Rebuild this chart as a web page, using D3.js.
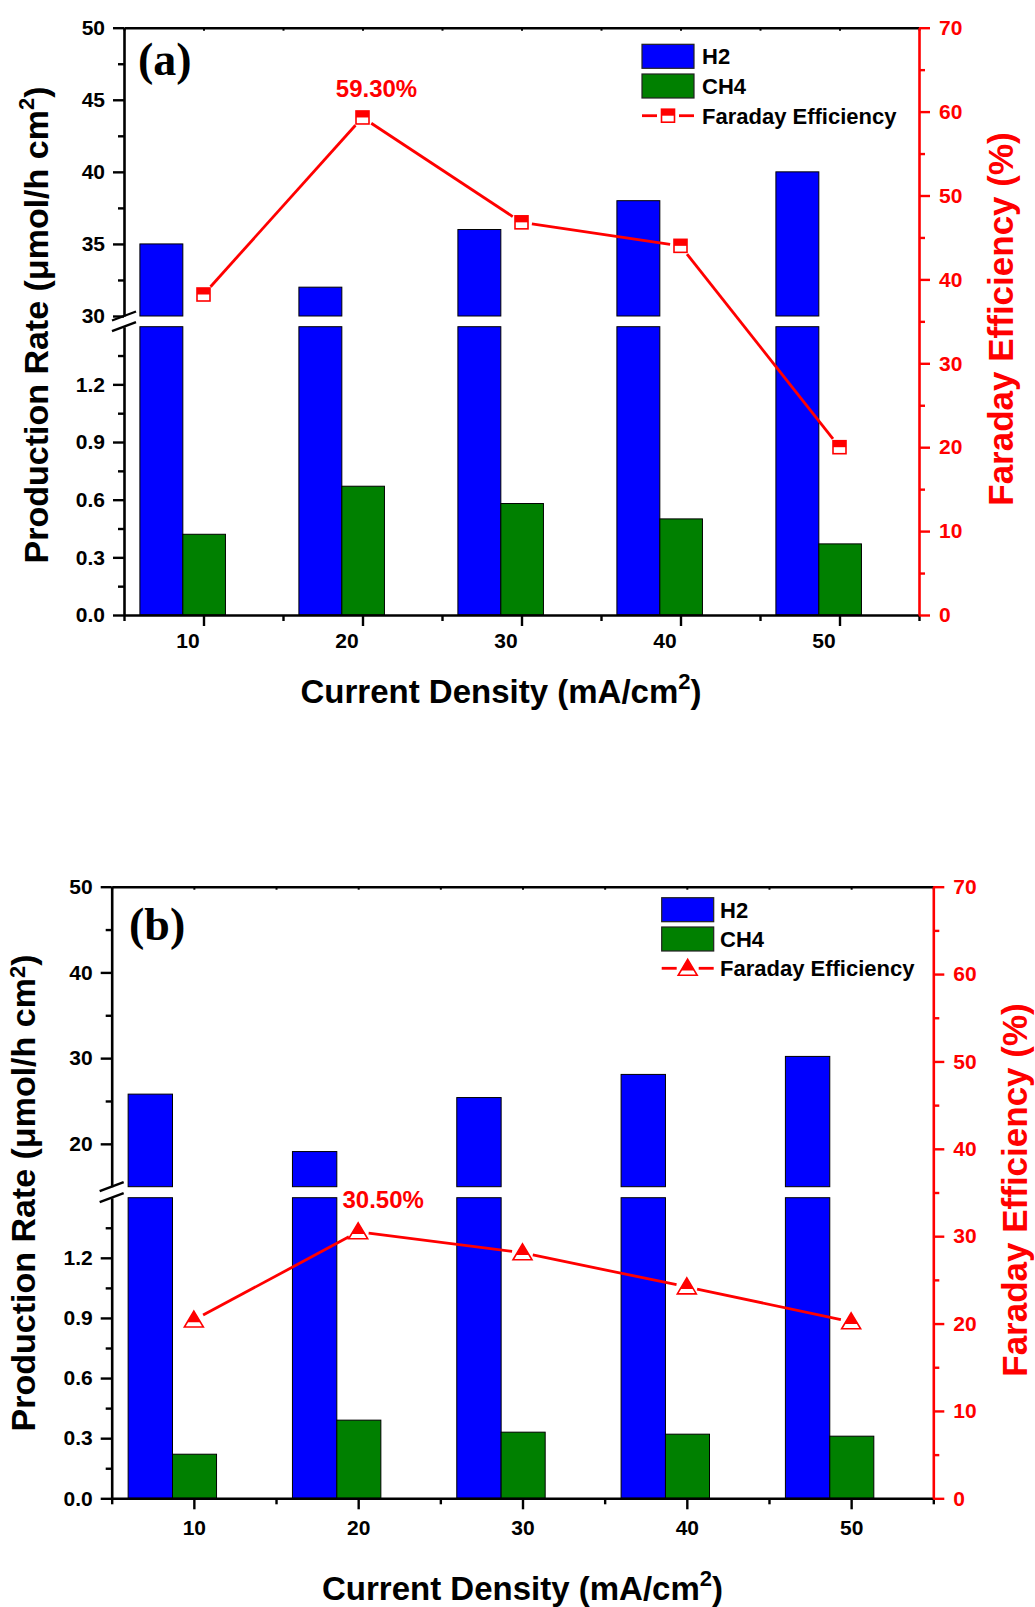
<!DOCTYPE html>
<html><head><meta charset="utf-8">
<script src="https://cdn.jsdelivr.net/npm/d3@7"></script>
<style>
body{margin:0;background:#fff}
svg{display:block}
</style>
</head><body>
<svg id="chart" width="1035" height="1607"></svg>
<script>
// ---------- data ----------
const currentDensity = [10, 20, 30, 40, 50];
const seriesNames = ["H2", "CH4", "Faraday Efficiency"];
const h2RateA = [35, 32, 36, 38, 40];
const ch4RateA = [0.42, 0.67, 0.58, 0.50, 0.37];
const faradayA = [38.2, 59.3, 46.8, 44.0, 20.0];
const h2RateB = [25.8, 19.1, 25.4, 28.1, 30.2];
const ch4RateB = [0.22, 0.39, 0.33, 0.32, 0.31];
const faradayB = [20.4, 30.5, 28.1, 24.2, 20.2];
const lowTicks = [0, 0.3, 0.6, 0.9, 1.2];
const lowMinorTicks = [0.15, 0.45, 0.75, 1.05, 1.35];
const highTicksA = [30, 35, 40, 45, 50];
const highMinorTicksA = [32.5, 37.5, 42.5, 47.5];
const highTicksB = [20, 30, 40, 50];
const highMinorTicksB = [25, 35, 45];
const rightTicks = [0, 10, 20, 30, 40, 50, 60, 70];
const rightMinorTicks = [5, 15, 25, 35, 45, 55, 65];
const xMinorTicks = [5, 15, 25, 35, 45, 55];
const peakLabelA = "59.30%";
const peakLabelB = "30.50%";
const panelLabels = ["(a)", "(b)"];
const yTitle = "Production Rate (μmol/h cm";
const xTitle = "Current Density (mA/cm";
const rightTitle = "Faraday Efficiency (%)";

const BLUE = "#0000FF", GREEN = "#008000", RED = "#FF0000";
const SANS = '"Liberation Sans", Arial, sans-serif';
const SERIF = '"Liberation Serif", "Times New Roman", serif';
const svg = d3.select("#chart").style("font-family", SANS).style("font-weight", "bold");

function styleAxis(sel, color, fs) {
  sel.selectAll("path.domain").attr("stroke", color).attr("stroke-width", 2.6);
  sel.selectAll(".tick line").attr("stroke", color).attr("stroke-width", 2.4);
  sel.attr("font-family", null).attr("font-size", null);
  sel.selectAll(".tick text").attr("fill", color)
    .style("font-size", fs + "px").style("font-family", SANS).style("font-weight", "bold");
}

function marker(g, type, cx, cy) {
  if (type === "square") {
    const s = 13;
    g.append("rect").attr("x", cx - s/2).attr("y", cy - s/2).attr("width", s).attr("height", s)
      .attr("fill", "#fff").attr("stroke", RED).attr("stroke-width", 1.6);
    g.append("rect").attr("x", cx - s/2).attr("y", cy - s/2).attr("width", s).attr("height", s/2)
      .attr("fill", RED);
  } else {
    const hw = 9.5, top = cy - 9, bot = cy + 7, f = 0.7;
    const hgt = bot - top;
    g.append("path").attr("d", `M${cx},${top}L${cx+hw},${bot}L${cx-hw},${bot}Z`)
      .attr("fill", "#fff").attr("stroke", RED).attr("stroke-width", 1.6);
    g.append("path").attr("d", `M${cx},${top}L${cx+hw*f},${top+hgt*f}L${cx-hw*f},${top+hgt*f}Z`)
      .attr("fill", RED);
  }
}

function drawPanel(cfg) {
  const g = svg.append("g");
  const x = d3.scaleLinear().domain([5, 55]).range([cfg.left, cfg.right]);
  const yLow = d3.scaleLinear().domain([0, 1.5]).range([cfg.bottom, cfg.breakLo]);
  const yHigh = d3.scaleLinear().domain(cfg.highDomain).range([cfg.breakHi, cfg.top]);
  const yR = d3.scaleLinear().domain([0, 70]).range([cfg.bottom, cfg.top]);

  const rows = currentDensity.map((c, i) => ({c, h2: cfg.h2[i], ch4: cfg.ch4[i], fe: cfg.fe[i]}));
  const h2L = -4.0, h2R = -1.3, chL = -1.3, chR = 1.38;

  // H2 bars (broken)
  g.selectAll(".h2lo").data(rows).join("rect")
    .attr("x", d => x(d.c + h2L)).attr("width", d => x(d.c + h2R) - x(d.c + h2L))
    .attr("y", d => d.h2 > 1.5 ? yLow(1.5) : yLow(d.h2))
    .attr("height", d => cfg.bottom - (d.h2 > 1.5 ? yLow(1.5) : yLow(d.h2)))
    .attr("fill", BLUE).attr("stroke", "#000").attr("stroke-width", 1);
  g.selectAll(".h2hi").data(rows.filter(d => d.h2 > cfg.highDomain[0])).join("rect")
    .attr("x", d => x(d.c + h2L)).attr("width", d => x(d.c + h2R) - x(d.c + h2L))
    .attr("y", d => yHigh(d.h2)).attr("height", d => yHigh(cfg.highDomain[0]) - yHigh(d.h2))
    .attr("fill", BLUE).attr("stroke", "#000").attr("stroke-width", 1);
  // CH4 bars
  g.selectAll(".ch4").data(rows).join("rect")
    .attr("x", d => x(d.c + chL)).attr("width", d => x(d.c + chR) - x(d.c + chL))
    .attr("y", d => yLow(d.ch4)).attr("height", d => cfg.bottom - yLow(d.ch4))
    .attr("fill", GREEN).attr("stroke", "#000").attr("stroke-width", 1);

  // top axis line
  const topAx = g.append("g").attr("transform", `translate(0,${cfg.top})`)
    .call(d3.axisTop(x).tickValues(d3.range(5, 56, 5)).tickSize(-3).tickSizeOuter(0).tickFormat(""));
  styleAxis(topAx, "#000", 0);
  topAx.selectAll(".tick line").attr("stroke-width", 2);

  // bottom axis
  const bx = g.append("g").attr("transform", `translate(0,${cfg.bottom})`)
    .call(d3.axisBottom(x).tickValues(currentDensity).tickSize(11).tickSizeOuter(0).tickPadding(cfg.xPad));
  styleAxis(bx, "#000", 21);
  bx.selectAll(".tick text").attr("dx", cfg.xLabelDx);
  const bxm = g.append("g").attr("transform", `translate(0,${cfg.bottom})`)
    .call(d3.axisBottom(x).tickValues(xMinorTicks).tickSize(6).tickFormat(""));
  bxm.select("path.domain").remove();
  styleAxis(bxm, "#000", 21);

  // left axis, lower
  const la = g.append("g").attr("transform", `translate(${cfg.left},0)`)
    .call(d3.axisLeft(yLow).tickValues(lowTicks).tickSize(11).tickSizeOuter(0).tickPadding(8).tickFormat(d3.format(".1f")));
  styleAxis(la, "#000", 21);
  const lam = g.append("g").attr("transform", `translate(${cfg.left},0)`)
    .call(d3.axisLeft(yLow).tickValues(lowMinorTicks).tickSize(6).tickFormat(""));
  lam.select("path.domain").remove(); styleAxis(lam, "#000", 21);
  // left axis, upper
  const ua = g.append("g").attr("transform", `translate(${cfg.left},0)`)
    .call(d3.axisLeft(yHigh).tickValues(cfg.highTicks).tickSize(11).tickSizeOuter(0).tickPadding(8).tickFormat(d3.format("d")));
  styleAxis(ua, "#000", 21);
  const uam = g.append("g").attr("transform", `translate(${cfg.left},0)`)
    .call(d3.axisLeft(yHigh).tickValues(cfg.highMinor).tickSize(6).tickFormat(""));
  uam.select("path.domain").remove(); styleAxis(uam, "#000", 21);

  // break marks
  [cfg.breakHi, cfg.breakLo].forEach(yy => {
    g.append("line").attr("x1", cfg.left - 12).attr("y1", yy + 4.5).attr("x2", cfg.left + 12).attr("y2", yy - 4.5)
      .attr("stroke", "#000").attr("stroke-width", 2.4);
  });

  // right axis
  const ra = g.append("g").attr("transform", `translate(${cfg.right},0)`)
    .call(d3.axisRight(yR).tickValues(rightTicks).tickSize(11).tickSizeOuter(0).tickPadding(cfg.rPad).tickFormat(d3.format("d")));
  styleAxis(ra, RED, 21);
  const ram = g.append("g").attr("transform", `translate(${cfg.right},0)`)
    .call(d3.axisRight(yR).tickValues(rightMinorTicks).tickSize(6).tickFormat(""));
  ram.select("path.domain").remove(); styleAxis(ram, RED, 21);

  // Faraday efficiency line with gaps
  const pts = rows.map(d => [x(d.c), yR(d.fe)]);
  const gap = 10.5;
  for (let i = 0; i < pts.length - 1; i++) {
    const [x1, y1] = pts[i], [x2, y2] = pts[i+1];
    const L = Math.hypot(x2 - x1, y2 - y1), ux = (x2 - x1) / L, uy = (y2 - y1) / L;
    g.append("line").attr("x1", x1 + ux*gap).attr("y1", y1 + uy*gap)
      .attr("x2", x2 - ux*gap).attr("y2", y2 - uy*gap)
      .attr("stroke", RED).attr("stroke-width", 2.8);
  }
  pts.forEach(p => marker(g, cfg.marker, p[0], p[1]));

  // peak label
  const iMax = d3.maxIndex(rows, d => d.fe);
  g.append("text").attr("x", x(rows[iMax].c) + cfg.peakDx).attr("y", cfg.peakY)
    .attr("text-anchor", "middle").style("font-size", "24px").attr("fill", RED).text(cfg.peakLabel);

  // panel label
  g.append("text").attr("x", cfg.labelX).attr("y", cfg.labelY)
    .style("font-family", SERIF).style("font-weight", "bold")
    .style("font-size", "46px").attr("fill", "#000").text(cfg.panelLabel);

  // legend
  const lg = g.append("g");
  const lx0 = cfg.legX, lx1 = cfg.legX + 52;
  [[BLUE, seriesNames[0]], [GREEN, seriesNames[1]]].forEach(([col, name], i) => {
    const cy = cfg.legY + i * cfg.legStep;
    lg.append("rect").attr("x", lx0).attr("y", cy - 12).attr("width", 52).attr("height", 24)
      .attr("fill", col).attr("stroke", "#222").attr("stroke-width", 1.2);
    lg.append("text").attr("x", cfg.legTextX).attr("y", cy + 8).style("font-size", "22px").attr("fill", "#000").text(name);
  });
  const fy = cfg.legY + 2 * cfg.legStep;
  const mcx = (lx0 + lx1) / 2;
  lg.append("line").attr("x1", lx0).attr("x2", mcx - 11).attr("y1", fy).attr("y2", fy).attr("stroke", RED).attr("stroke-width", 2.8);
  lg.append("line").attr("x1", mcx + 11).attr("x2", lx1).attr("y1", fy).attr("y2", fy).attr("stroke", RED).attr("stroke-width", 2.8);
  marker(lg, cfg.marker, mcx, fy);
  lg.append("text").attr("x", cfg.legTextX).attr("y", fy + 8).style("font-size", "22px").attr("fill", "#000").text(seriesNames[2]);

  // titles
  const yt = g.append("text").attr("transform", `translate(${cfg.yTitleX},${cfg.yTitleY}) rotate(-90)`)
    .attr("text-anchor", "middle").style("font-size", "34px").attr("fill", "#000");
  yt.append("tspan").text(yTitle);
  yt.append("tspan").attr("dy", -cfg.supDy).style("font-size", "22px").text("2");
  yt.append("tspan").attr("dy", cfg.supDy).text(")");

  const xt = g.append("text").attr("x", cfg.xTitleX).attr("y", cfg.xTitleY)
    .attr("text-anchor", "middle").style("font-size", "33px").attr("fill", "#000");
  xt.append("tspan").text(xTitle);
  xt.append("tspan").attr("dy", -14).style("font-size", "22px").text("2");
  xt.append("tspan").attr("dy", 14).text(")");

  g.append("text").attr("transform", `translate(${cfg.rTitleX},${cfg.rTitleY}) rotate(-90)`)
    .attr("text-anchor", "middle").style("font-size", "35px").attr("fill", RED).text(rightTitle);
}

drawPanel({
  left: 124, right: 919, top: 27.7, bottom: 615, breakHi: 316, breakLo: 326.7,
  highDomain: [30, 50], highTicks: highTicksA, highMinor: highMinorTicksA,
  h2: h2RateA, ch4: ch4RateA, fe: faradayA, marker: "square",
  xPad: 7, rPad: 9, xLabelDx: -16,
  peakLabel: peakLabelA, peakDx: 14, peakY: 96.5,
  panelLabel: panelLabels[0], labelX: 138, labelY: 75,
  legX: 642, legY: 56.3, legStep: 29.7, legTextX: 702,
  yTitleX: 48.3, yTitleY: 325, supDy: 14,
  xTitleX: 501, xTitleY: 703, rTitleX: 1012.7, rTitleY: 319
});

drawPanel({
  left: 111.7, right: 933.3, top: 886.7, bottom: 1498.3, breakHi: 1186.7, breakLo: 1197.7,
  highDomain: [15, 50], highTicks: highTicksB, highMinor: highMinorTicksB,
  h2: h2RateB, ch4: ch4RateB, fe: faradayB, marker: "triangle",
  xPad: 10.5, rPad: 9, xLabelDx: 0,
  peakLabel: peakLabelB, peakDx: 25, peakY: 1208.3,
  panelLabel: panelLabels[1], labelX: 129, labelY: 940,
  legX: 661.7, legY: 909.7, legStep: 29.3, legTextX: 720,
  yTitleX: 34.5, yTitleY: 1193, supDy: 10,
  xTitleX: 522.5, xTitleY: 1600, rTitleX: 1026.7, rTitleY: 1190
});
</script>
</body></html>
